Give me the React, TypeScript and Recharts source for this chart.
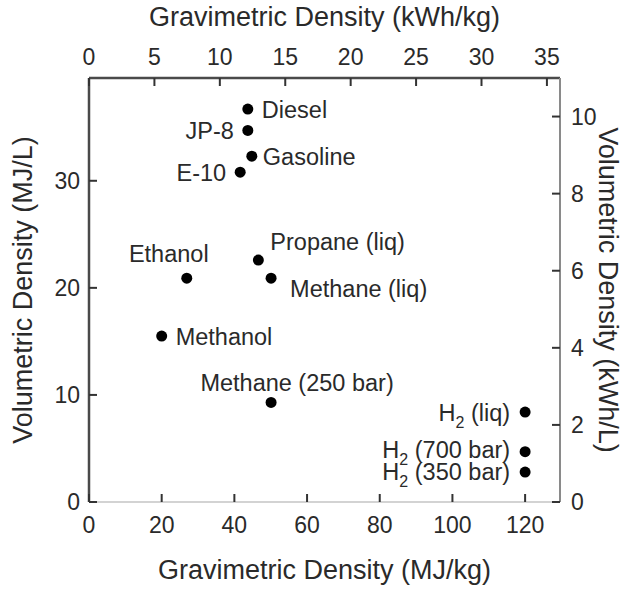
import { ScatterChart, Scatter, XAxis, YAxis } from "recharts";

const fuels = [
  "Diesel",
  "JP-8",
  "Gasoline",
  "E-10",
  "Ethanol",
  "Propane (liq)",
  "Methane (liq)",
  "Methanol",
  "Methane (250 bar)",
  "H2 (liq)",
  "H2 (700 bar)",
  "H2 (350 bar)",
];
// MJ/kg
const gravimetric = [43.7, 43.7, 44.8, 41.6, 26.9, 46.6, 50.1, 20.0, 50.1, 120, 120, 120];
// MJ/L
const volumetric = [36.7, 34.7, 32.3, 30.8, 20.9, 22.6, 20.9, 15.5, 9.3, 8.4, 4.7, 2.8];

const mjKgTicks = [0, 20, 40, 60, 80, 100, 120];
const kwhKgTicks = [0, 5, 10, 15, 20, 25, 30, 35];
const mjLTicks = [0, 10, 20, 30];
const kwhLTicks = [0, 2, 4, 6, 8, 10];

const MJ_PER_KWH = 3.6;
const X_MAX_KWH = 36;
const Y_MAX_KWH = 11;

const data = fuels.map((name, i) => ({ name, x: gravimetric[i], y: volumetric[i] }));

// label placement relative to the dot
const place: Record<string, { dx: number; dy: number; anchor: "start" | "middle" | "end" }> = {
  Diesel: { dx: 14, dy: 0, anchor: "start" },
  "JP-8": { dx: -14, dy: 0, anchor: "end" },
  Gasoline: { dx: 11, dy: 0, anchor: "start" },
  "E-10": { dx: -14, dy: 0, anchor: "end" },
  Ethanol: { dx: -18, dy: -25, anchor: "middle" },
  "Propane (liq)": { dx: 12, dy: -18, anchor: "start" },
  "Methane (liq)": { dx: 19, dy: 10, anchor: "start" },
  Methanol: { dx: 14, dy: 0, anchor: "start" },
  "Methane (250 bar)": { dx: 26, dy: -20, anchor: "middle" },
  "H2 (liq)": { dx: -15, dy: 0, anchor: "end" },
  "H2 (700 bar)": { dx: -15, dy: -2, anchor: "end" },
  "H2 (350 bar)": { dx: -15, dy: 0, anchor: "end" },
};

const FONT = "'Liberation Sans', Arial, Helvetica, sans-serif";
const INK = "#2a2a2a";
const DARK = "#4a4a4a";
const TICK_LEN = 8;
const TICK_COLOR = "#333";

function Dot(props: any) {
  const { cx, cy, payload } = props;
  const p = place[payload.name];
  const tx = cx + p.dx;
  const ty = cy + p.dy;
  const isH2 = payload.name.startsWith("H2");
  return (
    <g>
      <circle cx={cx} cy={cy} r={5.5} fill="#000" />
      <text
        x={tx}
        y={ty}
        dy="0.36em"
        textAnchor={p.anchor}
        fontSize={23.5}
        fontFamily={FONT}
        fill={INK}
      >
        {isH2 ? (
          <>
            <tspan>H</tspan>
            <tspan dy={7} fontSize={16}>2</tspan>
            <tspan dy={-7}>{payload.name.slice(2)}</tspan>
          </>
        ) : (
          payload.name
        )}
      </text>
    </g>
  );
}

// tick label plus a short inward tick mark
function makeTick(side: "top" | "bottom" | "left" | "right", margin: number) {
  return function Tick(props: any) {
    const { x, y, payload } = props;
    const common = { fontSize: 23, fontFamily: FONT, fill: INK, stroke: "none" };
    let path;
    let label;
    if (side === "bottom") {
      const ay = y - margin;
      path = `M${x},${ay}V${ay - TICK_LEN}`;
      label = <text x={x} y={y} dy="0.71em" textAnchor="middle" {...common}>{payload.value}</text>;
    } else if (side === "top") {
      const ay = y + margin;
      path = `M${x},${ay}V${ay + TICK_LEN}`;
      label = <text x={x} y={y} textAnchor="middle" {...common}>{payload.value}</text>;
    } else if (side === "left") {
      const ax = x + margin;
      path = `M${ax},${y}H${ax + TICK_LEN}`;
      label = <text x={x} y={y} dy="0.355em" textAnchor="end" {...common}>{payload.value}</text>;
    } else {
      const ax = x - margin;
      path = `M${ax},${y}H${ax - TICK_LEN}`;
      label = <text x={x} y={y} dy="0.355em" textAnchor="start" {...common}>{payload.value}</text>;
    }
    return (
      <g>
        <path d={path} stroke={TICK_COLOR} strokeWidth={2} fill="none" />
        {label}
      </g>
    );
  };
}

const titleStyle = { fontSize: 27, fontFamily: FONT, fill: INK };

export default function App() {
  return (
    <div style={{ position: "absolute", top: 0, left: 0, background: "#fff" }}>
      <ScatterChart width={624} height={589} margin={{ top: 0, right: 0, bottom: 0, left: 0 }}>
        <XAxis
          xAxisId="top"
          orientation="top"
          type="number"
          dataKey="x"
          domain={[0, X_MAX_KWH]}
          allowDataOverflow
          ticks={kwhKgTicks}
          height={78}
          tickSize={0}
          tickLine={false}
          tickMargin={13}
          axisLine={{ stroke: DARK, strokeWidth: 2.5 }}
          tick={makeTick("top", 13)}
          label={{ value: "Gravimetric Density (kWh/kg)", position: "insideTop", offset: 7, style: titleStyle }}
        />
        <XAxis
          xAxisId="bottom"
          orientation="bottom"
          type="number"
          dataKey="x"
          domain={[0, X_MAX_KWH * MJ_PER_KWH]}
          allowDataOverflow
          ticks={mjKgTicks}
          height={87}
          tickSize={0}
          tickLine={false}
          tickMargin={15}
          axisLine={{ stroke: "#c4c4c4", strokeWidth: 1.5 }}
          tick={makeTick("bottom", 15)}
          label={{ value: "Gravimetric Density (MJ/kg)", position: "insideBottom", offset: 10, style: titleStyle }}
        />
        <YAxis
          yAxisId="left"
          orientation="left"
          type="number"
          dataKey="y"
          domain={[0, Y_MAX_KWH * MJ_PER_KWH]}
          allowDataOverflow
          ticks={mjLTicks}
          width={89}
          tickSize={0}
          tickLine={false}
          tickMargin={9}
          axisLine={{ stroke: DARK, strokeWidth: 2.5 }}
          tick={makeTick("left", 9)}
          label={{
            value: "Volumetric Density (MJ/L)",
            angle: -90,
            position: "insideLeft",
            offset: 22,
            style: { ...titleStyle, textAnchor: "middle" },
          }}
        />
        <YAxis
          yAxisId="right"
          orientation="right"
          type="number"
          dataKey="y"
          domain={[0, Y_MAX_KWH]}
          allowDataOverflow
          ticks={kwhLTicks}
          width={64}
          tickSize={0}
          tickLine={false}
          tickMargin={11}
          axisLine={{ stroke: "#8a8a8a", strokeWidth: 2 }}
          tick={makeTick("right", 11)}
          label={{
            value: "Volumetric Density (kWh/L)",
            angle: 90,
            position: "insideRight",
            offset: 15,
            style: { ...titleStyle, textAnchor: "middle" },
          }}
        />
        <Scatter
          data={data}
          xAxisId="bottom"
          yAxisId="left"
          shape={Dot}
          isAnimationActive={false}
        />
      </ScatterChart>
    </div>
  );
}
